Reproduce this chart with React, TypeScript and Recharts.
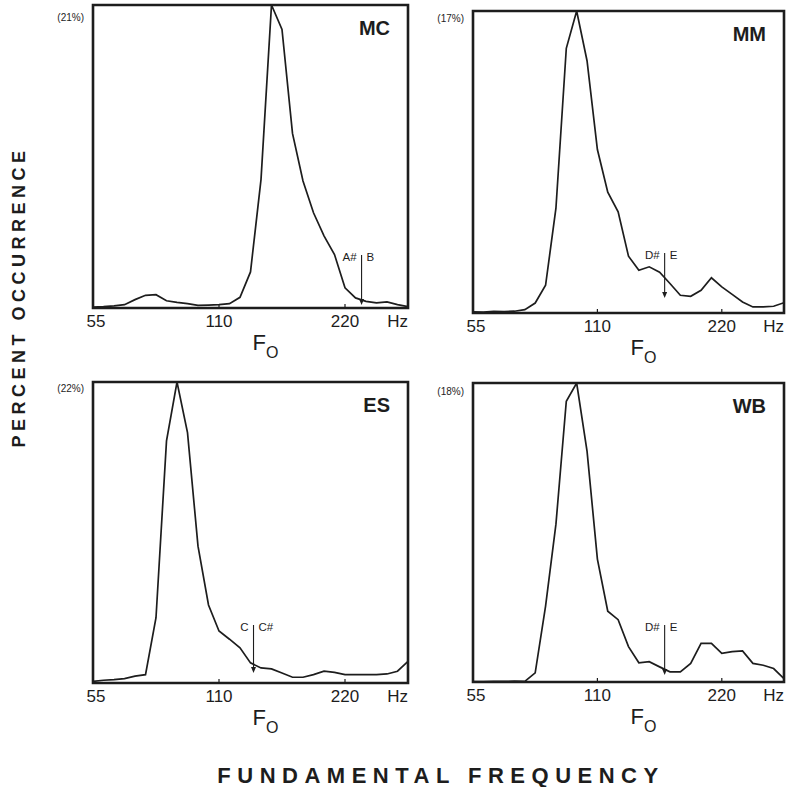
import { LineChart, Line, XAxis, YAxis, ReferenceArea, ReferenceLine } from "recharts";

const FONT = '"Liberation Sans", Arial, Helvetica, sans-serif';
const INK = "#1d1d1d";

// semitone bins from A1 (55 Hz) up to D#4
const freqs = [
  55, 58.27, 61.74, 65.41, 69.3, 73.42, 77.78, 82.41, 87.31, 92.5, 98, 103.83, 110, 116.54, 123.47,
  130.81, 138.59, 146.83, 155.56, 164.81, 174.61, 185, 196, 207.65, 220, 233.08, 246.94, 261.63,
  277.18, 293.66, 311.13,
];
const xTicks = [55, 110, 220];

// percent occurrence per bin
const mcValues = [
  0.07, 0.1, 0.15, 0.23, 0.58, 0.88, 0.92, 0.5, 0.39, 0.3, 0.18, 0.2, 0.23, 0.3, 0.74, 2.5, 8.9, 21,
  19.3, 12.1, 8.8, 6.6, 5.0, 3.7, 1.4, 0.7, 0.46, 0.35, 0.42, 0.23, 0.1,
];
const mmValues = [
  0.06, 0.05, 0.09, 0.08, 0.1, 0.19, 0.56, 1.56, 5.9, 14.9, 17, 14.2, 9.2, 6.8, 5.7, 3.2, 2.4, 2.6,
  2.3, 1.66, 1.0, 0.94, 1.28, 1.98, 1.47, 1.05, 0.62, 0.34, 0.34, 0.38, 0.58,
];
const esValues = [
  0.12, 0.2, 0.24, 0.32, 0.5, 0.61, 4.77, 17.7, 22, 18.3, 10, 5.7, 3.8, 3.2, 2.57, 1.47, 1.1, 1.03,
  0.73, 0.42, 0.42, 0.61, 0.86, 0.78, 0.61, 0.61, 0.61, 0.61, 0.66, 0.86, 1.59,
];
const wbValues = [
  0.03, 0.03, 0.04, 0.04, 0.05, 0.04, 0.55, 4.57, 9.5, 16.9, 18, 13.9, 7.4, 4.26, 3.75, 2.13, 1.16,
  1.22, 0.91, 0.61, 0.61, 1.12, 2.33, 2.33, 1.72, 1.83, 1.87, 1.12, 1.01, 0.81, 0.2,
];

const speakers = ["MC", "MM", "ES", "WB"];
const peaks = [21, 17, 22, 18];
const arrowFreqs = [241, 160, 133, 160];
const arrowTops = [3.67, 3.38, 4.24, 3.43];
const arrowBottoms = [0.2, 0.84, 0.73, 0.42];
const noteLabels = [
  ["A#", "B"],
  ["D#", "E"],
  ["C", "C#"],
  ["D#", "E"],
];

const M = { top: 5, left: 48, right: 2 };
const AXIS_H = 58;

const panels = [
  { values: mcValues, boxX: 93, boxY: 5, boxW: 315, boxH: 303, pctDy: 16 },
  { values: mmValues, boxX: 473, boxY: 11, boxW: 311, boxH: 302, pctDy: 11 },
  { values: esValues, boxX: 93, boxY: 382, boxW: 315, boxH: 301, pctDy: 10 },
  { values: wbValues, boxX: 473, boxY: 383, boxW: 311, boxH: 299, pctDy: 12 },
];

const FreqTick = (props: any) => {
  const { x, y, payload } = props;
  const dx = payload.value === 55 ? 3 : 0;
  return (
    <g>
      <line x1={x} x2={x} y1={y} y2={y - 4} stroke={INK} strokeWidth={1.2} />
      <text x={x + dx} y={y + 19} textAnchor="middle" fontSize={17} fontFamily={FONT} fill={INK}>
        {payload.value}
      </text>
    </g>
  );
};

const AxisCaption = (props: any) => {
  const { x, y, width } = props.viewBox;
  const mid = x + width / 2;
  return (
    <g fontFamily={FONT} fill={INK}>
      <text x={x + width} y={y + 19} textAnchor="end" fontSize={17}>
        Hz
      </text>
      <text x={mid + 2} y={y + 42} fontSize={22}>
        F
        <tspan dy={8} fontSize={16}>
          O
        </tspan>
      </text>
    </g>
  );
};

function Panel({ index }: { index: number }) {
  const cfg = panels[index];
  const peak = peaks[index];
  const data = freqs.map((f, i) => ({ f, v: cfg.values[i] }));
  const [leftNote, rightNote] = noteLabels[index];

  return (
    <div style={{ position: "absolute", left: cfg.boxX - M.left, top: cfg.boxY - M.top }}>
      <LineChart
        width={cfg.boxW + M.left + M.right}
        height={cfg.boxH + M.top + AXIS_H}
        data={data}
        margin={{ top: M.top, right: M.right, left: M.left, bottom: 0 }}
      >
        <XAxis
          dataKey="f"
          type="number"
          scale="log"
          domain={[55, 311.13]}
          ticks={xTicks}
          interval={0}
          allowDataOverflow
          axisLine={false}
          tickLine={false}
          tickSize={0}
          tickMargin={0}
          height={AXIS_H}
          tick={(p: any) => <FreqTick {...p} />}
          label={(p: any) => <AxisCaption {...p} />}
        />
        <YAxis hide domain={[0, peak]} allowDataOverflow />
        <Line
          type="linear"
          dataKey="v"
          stroke={INK}
          strokeWidth={1.7}
          dot={false}
          isAnimationActive={false}
        />
        <ReferenceLine
          segment={[
            { x: arrowFreqs[index], y: arrowTops[index] },
            { x: arrowFreqs[index], y: arrowBottoms[index] },
          ]}
          stroke={INK}
          shape={(p: any) => (
            <g fontFamily={FONT} fill={INK}>
              <line x1={p.x1} y1={p.y1} x2={p.x2} y2={p.y2 - 4} stroke={INK} strokeWidth={1.1} />
              <polygon
                points={`${p.x2 - 2.5},${p.y2 - 6} ${p.x2 + 2.5},${p.y2 - 6} ${p.x2},${p.y2}`}
                fill={INK}
              />
              <text x={p.x1 - 5} y={p.y1 + 6} textAnchor="end" fontSize={11.5}>
                {leftNote}
              </text>
              <text x={p.x1 + 5} y={p.y1 + 6} textAnchor="start" fontSize={11.5}>
                {rightNote}
              </text>
            </g>
          )}
        />
        <ReferenceArea
          x1={55}
          x2={311.13}
          y1={0}
          y2={peak}
          fill="none"
          stroke={INK}
          strokeWidth={2.6}
          ifOverflow="visible"
          label={(p: any) => {
            const { x, y, width } = p.viewBox;
            return (
              <g fontFamily={FONT} fill={INK}>
                <text x={x - 9} y={y + cfg.pctDy} textAnchor="end" fontSize={10}>
                  ({peak}%)
                </text>
                <text x={x + width - 18} y={y + 30} textAnchor="end" fontSize={20} fontWeight="bold">
                  {speakers[index]}
                </text>
              </g>
            );
          }}
        />
      </LineChart>
    </div>
  );
}

export default function App() {
  return (
    <div style={{ position: "absolute", left: 0, top: 0, width: 786, height: 787, background: "#fff" }}>
      <svg width={786} height={787} style={{ position: "absolute", left: 0, top: 0 }}>
        <text
          transform="translate(25,297) rotate(-90)"
          textAnchor="middle"
          fontSize={18}
          fontWeight="bold"
          letterSpacing={4.5}
          fontFamily={FONT}
          fill={INK}
        >
          PERCENT OCCURRENCE
        </text>
        <text
          x={441}
          y={783}
          textAnchor="middle"
          fontSize={22}
          fontWeight="bold"
          letterSpacing={6.5}
          fontFamily={FONT}
          fill={INK}
        >
          FUNDAMENTAL FREQUENCY
        </text>
      </svg>
      {panels.map((_, i) => (
        <Panel key={speakers[i]} index={i} />
      ))}
    </div>
  );
}
